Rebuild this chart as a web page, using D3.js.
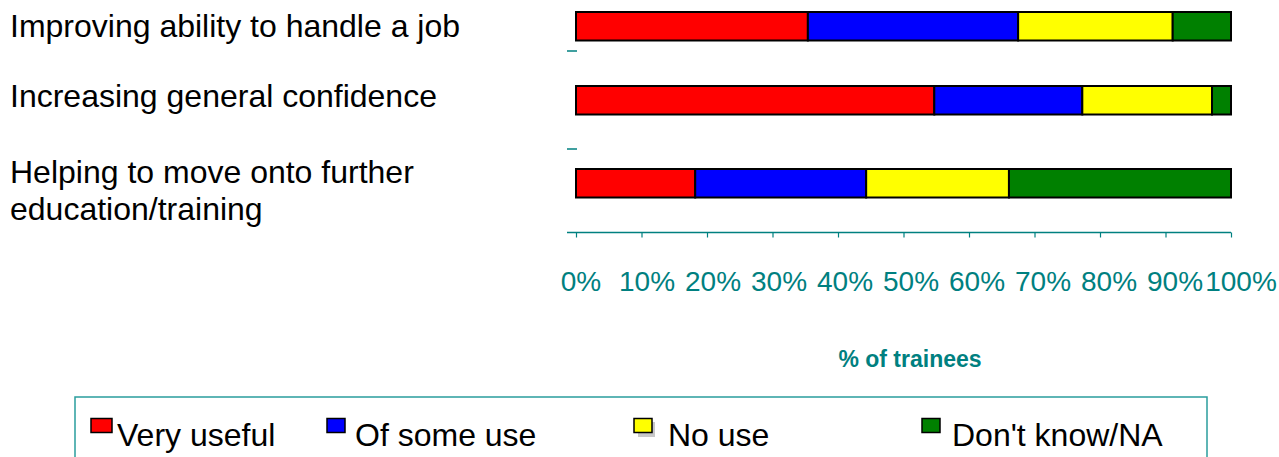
<!DOCTYPE html>
<html>
<head>
<meta charset="utf-8">
<script src="https://cdn.jsdelivr.net/npm/d3@7"></script>
<style>
  html, body { margin: 0; padding: 0; background: #fff; }
  svg { display: block; font-family: Arial, "Liberation Sans", sans-serif; }
</style>
</head>
<body>
<svg id="chart" width="1279" height="457"></svg>
<script>
// Usefulness of training, % of trainees per response
const categories = [
  ["Improving ability to handle a job"],
  ["Increasing general confidence"],
  ["Helping to move onto further", "education/training"]
];
const seriesNames = ["Very useful", "Of some use", "No use", "Don't know/NA"];
const veryUseful = [35.4, 54.7, 18.2];
const ofSomeUse  = [32.1, 22.6, 26.1];
const noUse      = [23.6, 19.8, 21.8];
const dontKnow   = [8.9, 2.9, 33.9];
const tickValues = [0, 10, 20, 30, 40, 50, 60, 70, 80, 90, 100];
const axisTitle = "% of trainees";

const colors = ["#ff0000", "#0000ff", "#ffff00", "#008000"];
const teal = "#008080";

const svg = d3.select("#chart");

const rows = categories.map((c, i) => ({
  key: c.join(" "),
  lines: c,
  values: [veryUseful[i], ofSomeUse[i], noUse[i], dontKnow[i]]
}));

const x = d3.scaleLinear().domain([0, 100]).range([576, 1231]);
const keys = rows.map(r => r.key);
const y = d3.scaleOrdinal().domain(keys).range([12, 86, 169]);       // bar tops
const yLabel = d3.scaleOrdinal().domain(keys).range([37, 107, 183]); // first baseline of each label
const barH = 28.5;

// stacked segments
const stack = d3.stack().keys(d3.range(4)).value((d, k) => d.values[k]);
const layers = stack(rows);

const gBars = svg.append("g");
layers.forEach((layer, k) => {
  gBars.selectAll(null)
    .data(layer)
    .join("rect")
    .attr("x", d => x(d[0]))
    .attr("y", d => y(d.data.key))
    .attr("width", d => x(d[1]) - x(d[0]))
    .attr("height", barH)
    .attr("fill", colors[k])
    .attr("stroke", "#000")
    .attr("stroke-width", 2);
});

// category labels
const gLab = svg.append("g");
rows.forEach(r => {
  const lh = 37;
  const t = gLab.append("text")
    .attr("x", 10)
    .attr("font-size", 32)
    .attr("fill", "#000");
  r.lines.forEach((ln, j) => {
    t.append("tspan").attr("x", 10).attr("y", yLabel(r.key) + j * lh).text(ln);
  });
});

// small marks on the category axis between rows
const sepY = [51, 149];
svg.append("g").selectAll("line")
  .data(sepY)
  .join("line")
  .attr("x1", 567).attr("x2", 577)
  .attr("y1", d => d)
  .attr("y2", d => d)
  .attr("stroke", teal)
  .attr("stroke-width", 1.5);

// value axis
const axisY = 232.5;
const gAxis = svg.append("g").attr("transform", `translate(0,${axisY})`);
gAxis.call(d3.axisBottom(x).tickValues(tickValues).tickSize(5).tickSizeOuter(0).tickFormat(d => d + "%"));
gAxis.select(".domain").remove();
gAxis.append("line")
  .attr("x1", 567).attr("x2", x(100))
  .attr("stroke", teal).attr("stroke-width", 1.5);
gAxis.selectAll(".tick line").attr("stroke", teal).attr("stroke-width", 1.2);
gAxis.selectAll(".tick text")
  .attr("fill", teal)
  .attr("font-size", 28)
  .attr("font-family", "Arial, 'Liberation Sans', sans-serif")
  .attr("dy", null)
  .attr("y", 58.5)
  .attr("dx", (d, i) => 4.5 + i * 0.5);

svg.append("text")
  .attr("x", 910).attr("y", 367)
  .attr("text-anchor", "middle")
  .attr("font-size", 23)
  .attr("font-weight", "bold")
  .attr("fill", teal)
  .text(axisTitle);

// legend
const legend = svg.append("g");
legend.append("rect")
  .attr("x", 75).attr("y", 397)
  .attr("width", 1132).attr("height", 80)
  .attr("fill", "none")
  .attr("stroke", "#2a9d9d")
  .attr("stroke-width", 1.5);
const legendX = [91, 327, 634, 922];
const legendTextX = [117, 355, 668, 952];
seriesNames.forEach((name, i) => {
  if (i === 2) {
    legend.append("rect")
      .attr("x", legendX[i] + 4).attr("y", 422)
      .attr("width", 17).attr("height", 15)
      .attr("fill", "#c8c8c8");
  }
  legend.append("rect")
    .attr("x", legendX[i]).attr("y", 418.5)
    .attr("width", i === 0 ? 21 : 18).attr("height", 14)
    .attr("fill", colors[i])
    .attr("stroke", "#000").attr("stroke-width", 1.5);
  legend.append("text")
    .attr("x", legendTextX[i]).attr("y", 446)
    .attr("font-size", 32)
    .attr("fill", "#000")
    .text(name);
});
</script>
</body>
</html>
